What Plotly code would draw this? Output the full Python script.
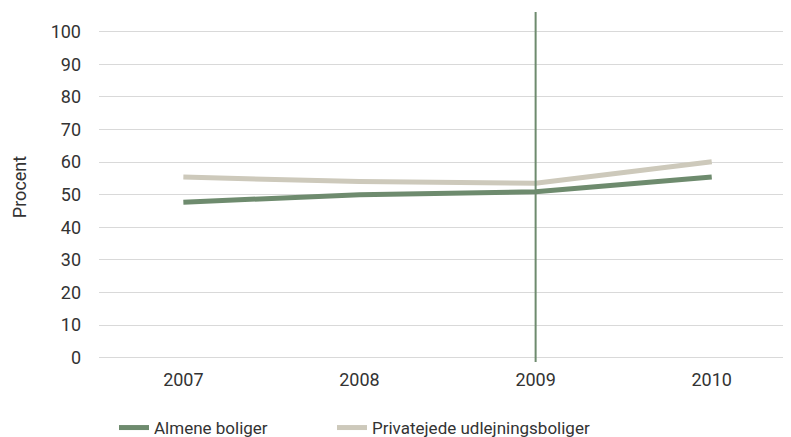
import plotly.graph_objects as go

years = [2007, 2008, 2009, 2010]
year_labels = ["2007", "2008", "2009", "2010"]
almene = [47.7, 50.0, 50.9, 55.4]
private = [55.4, 54.0, 53.5, 60.1]
marker_year = 2009
y_ticks = [0, 10, 20, 30, 40, 50, 60, 70, 80, 90, 100]

green = "#6e8b6e"
beige = "#cdc9bb"
txt = "#333333"

# the page body adds an 8px offset, so the figure is sized to fit the window
W, H = 783, 429

fig = go.Figure()
fig.add_trace(go.Scatter(x=years, y=almene, mode="lines", name="Almene boliger",
                         line=dict(color=green, width=5), legend="legend"))
fig.add_trace(go.Scatter(x=years, y=private, mode="lines", name="Privatejede udlejningsboliger",
                         line=dict(color=beige, width=5), legend="legend2"))

fig.add_shape(type="line", xref="x", yref="y", x0=marker_year, x1=marker_year,
              y0=-1.3, y1=106.0, line=dict(color=green, width=2), layer="above")

legend_common = dict(orientation="h", xanchor="left", yref="container", xref="container",
                     y=1 - 420 / H, yanchor="middle", font=dict(size=17, color=txt),
                     itemwidth=30, bgcolor="rgba(0,0,0,0)")

fig.update_layout(
    width=W, height=H,
    margin=dict(l=91, r=0, t=4, b=75, autoexpand=False),
    paper_bgcolor="white", plot_bgcolor="white",
    font=dict(family="Roboto", size=18, color=txt),
    showlegend=True,
    legend=dict(x=106 / W, **legend_common),
    legend2=dict(x=324 / W, **legend_common),
)
fig.update_xaxes(range=[2006.521, 2010.45], tickvals=years, ticktext=year_labels,
                 showgrid=False, zeroline=False, showline=False, ticks="",
                 ticklabelstandoff=5, automargin=False, tickfont=dict(size=18))
fig.update_yaxes(range=[-1.3, 106.0], tickvals=y_ticks, showgrid=True,
                 gridcolor="#d9d9d9", gridwidth=1, zeroline=False, showline=False,
                 ticks="", ticklabelstandoff=17, automargin=False, tickfont=dict(size=18),
                 title=dict(text="Procent", standoff=19, font=dict(size=18, color=txt)))

fig.write_html("out.html")
